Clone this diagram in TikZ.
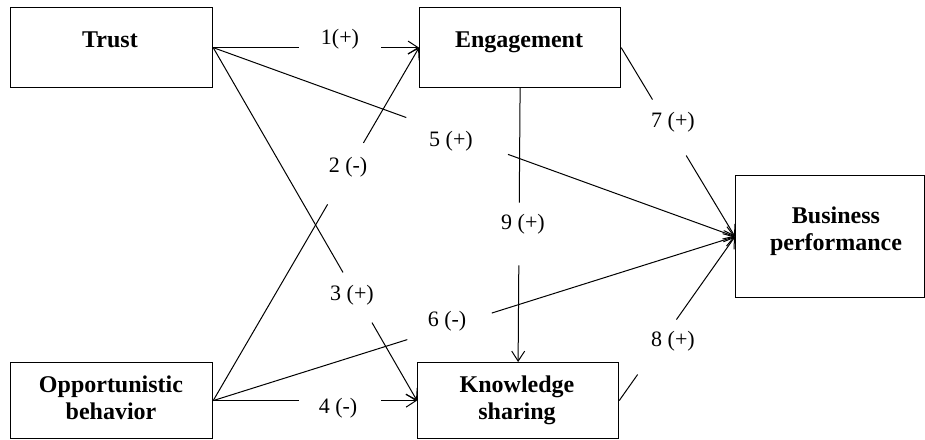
\documentclass[tikz,border=0pt]{standalone}
\usepackage{fontspec}
\setmainfont{Liberation Serif}
\usetikzlibrary{arrows.meta}
\begin{document}
\begin{tikzpicture}[x=1pt,y=-1pt,
  box/.style={draw, line width=1.2pt, inner sep=0pt, anchor=north west},
  title/.style={font=\fontsize{24}{27}\selectfont\bfseries, align=center, inner sep=0pt, anchor=base},
  lab/.style={font=\fontsize{22}{25}\selectfont, inner sep=0pt},
  conn/.style={line width=1pt},
  arr/.style={conn, -{Straight Barb[length=10pt,width=13pt,line width=1pt]}}
]
\useasboundingbox (0,0) rectangle (925,439);
% boxes
\node[box, minimum width=202pt, minimum height=80pt] (trust) at (10,7) {};
\node[box, minimum width=201pt, minimum height=80pt] (eng) at (419,7) {};
\node[box, minimum width=202pt, minimum height=76pt] (opp) at (10,362) {};
\node[box, minimum width=201pt, minimum height=76pt] (ks) at (417,362) {};
\node[box, minimum width=189pt, minimum height=122pt] (bp) at (735,175) {};
% titles
\node[title] (ttrust) at (110,47) {Trust};
\node[title] (teng) at (519,47) {Engagement};
\node[title] (topp) at (111,419) {Opportunistic\\behavior};
\node[title] (tks) at (517,419) {Knowledge\\sharing};
\node[title] (tbp) at (836,250) {Business\\performance};
% gap points
\path (trust.east) -- (eng.west) coordinate[pos=.415] (a1) coordinate[pos=.816] (b1);
\path (opp.east) -- (eng.west) coordinate[pos=.556] (a2) coordinate[pos=.73] (b2);
\path (trust.east) -- (ks.west) coordinate[pos=.637] (a3) coordinate[pos=.779] (b3);
\path (opp.east) -- (ks.west) coordinate[pos=.42] (a4) coordinate[pos=.824] (b4);
\path (trust.east) -- (bp.west) coordinate[pos=.37] (a5) coordinate[pos=.565] (b5);
\path (opp.east) -- (bp.west) coordinate[pos=.372] (a6) coordinate[pos=.534] (b6);
\path (eng.east) -- (bp.west) coordinate[pos=.275] (a7) coordinate[pos=.571] (b7);
\path (ks.east) -- (bp.west) coordinate[pos=.159] (a8) coordinate[pos=.494] (b8);
\path (eng.south) -- (ks.north) coordinate[pos=.418] (a9) coordinate[pos=.647] (b9);
% connectors
\draw[conn] (trust.east) -- (a1); \draw[arr] (b1) -- (eng.west);
\draw[conn] (opp.east) -- (a2); \draw[arr] (b2) -- (eng.west);
\draw[conn] (trust.east) -- (a3); \draw[arr] (b3) -- (ks.west);
\draw[conn] (opp.east) -- (a4); \draw[arr] (b4) -- (ks.west);
\draw[conn] (trust.east) -- (a5); \draw[arr] (b5) -- (bp.west);
\draw[conn] (opp.east) -- (a6); \draw[arr] (b6) -- (bp.west);
\draw[conn] (eng.east) -- (a7); \draw[arr] (b7) -- (bp.west);
\draw[conn] (ks.east) -- (a8); \draw[arr] (b8) -- (bp.west);
\draw[conn] (eng.south) -- (a9); \draw[arr] (b9) -- (ks.north);
% labels
\node[lab] (l1) at (340,39) {1(+)};
\node[lab] (l2) at (348,167) {2 (-)};
\node[lab] (l3) at (352,295) {3 (+)};
\node[lab] (l4) at (338,408) {4 (-)};
\node[lab] (l5) at (451,141) {5 (+)};
\node[lab] (l6) at (447,321) {6 (-)};
\node[lab] (l7) at (673,122) {7 (+)};
\node[lab] (l8) at (673,341) {8 (+)};
\node[lab] (l9) at (523,224) {9 (+)};
\end{tikzpicture}
\end{document}
